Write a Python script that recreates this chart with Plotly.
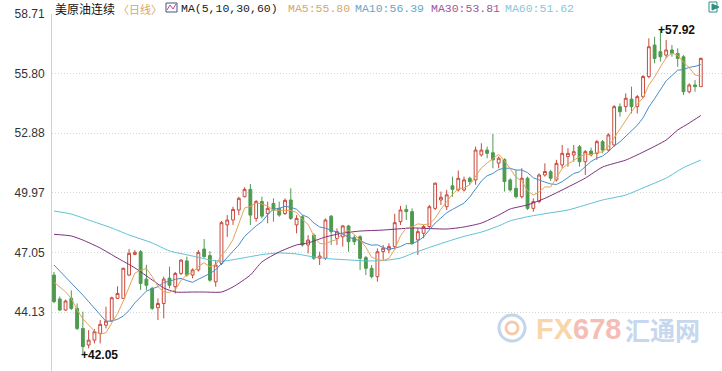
import plotly.graph_objects as go
import pandas as pd

# ---------------- data ----------------
idx = list(range(1, 114))

opens = [45.95, 44.78, 44.24, 44.81, 44.32, 43.34, 42.53, 42.77, 43.10, 43.50,
         43.70, 44.81, 44.81, 45.95, 46.96, 47.09, 45.75, 45.30, 44.35, 44.56,
         45.80, 45.38, 46.03, 46.64, 45.95, 46.20, 47.22, 46.90, 45.62, 46.52,
         48.40, 48.64, 49.13, 49.78, 50.14, 48.72, 49.54, 48.96, 49.45, 49.21,
         48.96, 49.62, 48.40, 48.80, 47.42, 47.90, 46.77, 46.77, 48.83, 47.74,
         47.82, 48.35, 47.79, 47.82, 46.80, 46.28, 45.87, 47.10, 47.18, 47.34,
         48.56, 49.16, 49.05, 47.67, 47.99, 48.32, 49.21, 49.62, 49.29, 50.31,
         50.11, 50.11, 50.68, 50.60, 51.82, 52.06, 51.93, 51.42, 51.60, 50.60,
         50.19, 49.78, 50.68, 49.21, 49.54, 50.84, 51.00, 50.60, 51.33, 51.74,
         51.82, 52.22, 51.49, 52.01, 51.90, 52.47, 52.06, 52.31, 54.18, 54.18,
         54.55, 54.18, 54.67, 55.65, 57.19, 56.87, 56.70, 56.95, 56.78, 56.62,
         54.91, 55.24, 55.16]

highs = [46.10, 44.90, 44.75, 45.20, 44.56, 44.16, 43.26, 43.31, 43.75, 44.40,
         44.89, 45.40, 46.31, 47.22, 47.17, 47.17, 46.45, 45.38, 44.81, 45.87,
         46.36, 46.10, 46.73, 46.85, 46.28, 47.17, 47.71, 47.12, 46.68, 48.59,
         48.88, 49.29, 49.78, 50.24, 50.40, 49.62, 49.78, 49.54, 49.70, 49.54,
         49.70, 50.19, 48.88, 48.88, 47.90, 47.99, 47.09, 48.72, 48.88, 48.23,
         48.40, 48.40, 47.90, 47.90, 46.88, 46.44, 47.25, 47.42, 47.50, 48.94,
         49.33, 49.38, 49.21, 48.23, 48.40, 49.38, 50.47, 50.03, 50.11, 50.76,
         51.06, 50.76, 50.76, 52.23, 52.39, 52.23, 52.85, 51.74, 51.66, 50.68,
         51.09, 51.17, 50.76, 49.70, 50.92, 51.41, 51.09, 51.58, 52.31, 52.15,
         52.31, 52.31, 52.06, 52.18, 52.55, 52.55, 52.88, 54.26, 54.34, 54.83,
         55.16, 54.75, 55.73, 57.52, 57.60, 57.92, 57.44, 57.19, 57.03, 56.70,
         55.32, 55.48, 56.58]

lows = [44.57, 44.19, 44.20, 44.24, 43.26, 42.05, 42.37, 42.61, 42.61, 43.34,
        43.67, 44.78, 44.78, 45.90, 46.92, 45.22, 45.20, 44.24, 43.75, 43.83,
        45.30, 45.05, 45.95, 45.87, 45.79, 46.12, 46.80, 45.62, 45.38, 46.44,
        47.82, 48.40, 48.88, 49.75, 48.40, 48.56, 48.72, 48.48, 48.56, 48.80,
        48.88, 48.64, 47.99, 47.34, 47.01, 46.69, 46.44, 46.69, 47.42, 47.42,
        47.34, 47.09, 47.42, 46.20, 45.95, 45.79, 45.63, 46.69, 47.01, 47.18,
        48.40, 48.64, 47.42, 46.93, 47.75, 48.23, 49.13, 49.38, 49.13, 49.78,
        50.03, 50.03, 50.36, 50.36, 51.74, 51.66, 51.17, 51.17, 50.03, 50.03,
        49.70, 49.70, 49.13, 49.05, 49.46, 50.76, 50.55, 50.52, 51.17, 51.25,
        51.49, 51.25, 50.84, 51.74, 51.58, 51.90, 51.98, 52.23, 53.69, 53.93,
        53.85, 53.85, 54.59, 55.57, 56.30, 56.38, 56.54, 56.62, 56.13, 54.75,
        54.83, 54.91, 55.16]

closes = [44.65, 44.24, 44.68, 44.32, 43.34, 42.45, 42.77, 43.18, 43.54, 43.70,
          44.84, 45.05, 46.28, 47.01, 47.06, 45.54, 45.45, 44.32, 44.56, 45.75,
          45.45, 46.03, 46.68, 45.95, 46.20, 47.06, 46.85, 45.70, 46.44, 48.51,
          48.64, 49.16, 49.70, 50.14, 48.88, 49.54, 48.83, 49.21, 49.13, 48.88,
          49.60, 48.72, 48.72, 47.42, 47.66, 46.77, 46.88, 48.64, 48.07, 48.07,
          48.35, 47.58, 47.58, 46.77, 46.28, 45.87, 47.09, 47.26, 47.34, 48.51,
          49.13, 49.05, 47.50, 48.07, 48.32, 49.29, 50.44, 49.75, 49.87, 50.14,
          50.68, 50.60, 50.52, 52.06, 52.06, 51.90, 51.58, 51.66, 50.52, 50.11,
          49.78, 50.68, 49.21, 49.54, 50.84, 51.01, 50.68, 51.41, 51.90, 51.90,
          51.98, 51.49, 51.98, 51.82, 52.47, 52.06, 52.80, 54.18, 53.93, 54.59,
          54.18, 54.67, 55.65, 57.11, 56.54, 56.62, 56.95, 56.78, 56.54, 54.91,
          55.24, 55.16, 56.54]

# MA values at the left edge (before a full window is visible)
ma5_head = [45.60, 45.38, 45.13, 44.80]
ma10_head = [46.44, 46.15, 45.88, 45.60, 45.30, 44.97, 44.65, 44.34, 44.00]

ma30_idx = [1, 4, 6, 9, 12, 15, 18, 20, 22, 25, 27, 30, 32, 35, 37, 40, 43, 45, 48, 51,
            54, 58, 63, 69, 72, 75, 78, 80, 83, 86, 90, 93, 96, 100, 103, 107, 109, 111, 113]
ma30_val = [47.94, 47.86, 47.66, 47.27, 46.78, 46.30, 45.71, 45.32, 45.12, 45.12, 45.12,
            45.12, 45.37, 45.95, 46.59, 47.08, 47.42, 47.52, 47.81, 48.00, 48.10, 48.15,
            48.25, 48.20, 48.30, 48.49, 48.88, 49.18, 49.38, 49.70, 50.25, 50.69, 51.23,
            51.57, 51.96, 52.55, 53.04, 53.38, 53.75]

ma60_idx = [1, 4, 7, 11, 14, 18, 21, 25, 28, 30, 32, 35, 37, 40, 43, 46, 49, 52, 55, 58,
            61, 63, 66, 69, 72, 75, 78, 80, 83, 86, 90, 93, 96, 100, 103, 107, 110, 113]
ma60_val = [49.08, 48.93, 48.64, 48.25, 47.91, 47.52, 47.13, 46.88, 46.69, 46.62, 46.70,
            46.85, 46.95, 47.03, 46.98, 46.83, 46.74, 46.69, 46.64, 46.66, 46.78, 47.00,
            47.30, 47.58, 47.84, 48.05, 48.35, 48.60, 48.80, 48.95, 49.13, 49.37, 49.62,
            49.86, 50.21, 50.69, 51.20, 51.57]

ytick_vals = [58.71, 55.80, 52.88, 49.97, 47.05, 44.13]
ytick_text = ["58.71", "55.80", "52.88", "49.97", "47.05", "44.13"]

title_name = "美原油连续"
title_period = "〈日线〉"
ma_label = "MA(5,10,30,60)"
ma_legend = ["MA5:55.80", "MA10:56.39", "MA30:53.81", "MA60:51.62"]
low_label = "+42.05"
high_label = "+57.92"

# ---------------- derived MA5 / MA10 ----------------
cs = pd.Series(closes)
ma5 = cs.rolling(5).mean().tolist()
ma10 = cs.rolling(10).mean().tolist()
ma5[:4] = ma5_head
ma10[:9] = ma10_head

# ---------------- styling ----------------
W, H = 722, 371
L, T = 52, 14
PW, PH = W - L, H - T

RED = "#c9483c"
GREEN = "#4f9a4f"
C_MA5 = "#e3a55a"
C_MA10 = "#4a8cc8"
C_MA30 = "#7d2e7d"
C_MA60 = "#5cc0d6"


def px(x):
    return (x - L) / PW


def py(y):
    return 1 - (y - T) / PH


fig = go.Figure()

fig.add_trace(go.Scatter(x=ma60_idx, y=ma60_val, mode="lines",
                         line=dict(color=C_MA60, width=1, shape="spline", smoothing=0.6),
                         hoverinfo="skip"))
fig.add_trace(go.Scatter(x=ma30_idx, y=ma30_val, mode="lines",
                         line=dict(color=C_MA30, width=1, shape="spline", smoothing=0.6),
                         hoverinfo="skip"))
fig.add_trace(go.Scatter(x=idx, y=ma10, mode="lines",
                         line=dict(color=C_MA10, width=1), hoverinfo="skip"))
fig.add_trace(go.Scatter(x=idx, y=ma5, mode="lines",
                         line=dict(color=C_MA5, width=1), hoverinfo="skip"))

fig.add_trace(go.Candlestick(
    x=idx, open=opens, high=highs, low=lows, close=closes,
    increasing=dict(line=dict(color=RED, width=1), fillcolor="#ffffff"),
    decreasing=dict(line=dict(color=GREEN, width=1), fillcolor=GREEN),
    whiskerwidth=0, hoverinfo="skip",
))

# low / high markers
i_low = lows.index(min(lows))
i_high = highs.index(max(highs))
annos = [
    dict(x=idx[i_low], y=lows[i_low], xref="x", yref="y", text="<b>" + low_label + "</b>",
         showarrow=False, xanchor="left", yanchor="middle", xshift=-4,
         font=dict(family="Liberation Sans, Arial", size=12, color="#111111")),
    dict(x=idx[i_high], y=highs[i_high], xref="x", yref="y", text="<b>" + high_label + "</b>",
         showarrow=False, xanchor="left", yanchor="middle", xshift=-4,
         font=dict(family="Liberation Sans, Arial", size=12, color="#111111")),
]

ty = py(8.5)
mono = "Liberation Mono, Courier New, monospace"
annos += [
    dict(x=px(53), y=ty, xref="paper", yref="paper", text=title_name, showarrow=False,
         xanchor="left", yanchor="middle",
         font=dict(family="Noto Sans CJK SC", size=12, color="#111111")),
    dict(x=px(116), y=ty, xref="paper", yref="paper", text=title_period,
         showarrow=False, xanchor="left", yanchor="middle",
         font=dict(family="Noto Sans CJK SC", size=11, color="#d9a860")),
    dict(x=px(179), y=ty, xref="paper", yref="paper", text=ma_label, showarrow=False,
         xanchor="left", yanchor="middle", font=dict(family=mono, size=11.5, color="#222222")),
]
legend_x = [286, 353, 429, 503]
legend_c = ["#d4a86e", "#6aa6c8", "#a0569c", "#86c8dc"]
for t, x0, c in zip(ma_legend, legend_x, legend_c):
    annos.append(dict(x=px(x0), y=ty, xref="paper", yref="paper", text=t, showarrow=False,
                      xanchor="left", yanchor="middle", font=dict(family=mono, size=11.5, color=c)))

# watermark
annos += [
    dict(x=px(578), y=py(329), xref="paper", yref="paper",
         text='<b><span style="color:#f8c98e">FX</span><span style="color:#f2a89c">678</span></b>',
         showarrow=False, xanchor="center", yanchor="middle",
         font=dict(family="Liberation Sans, Arial", size=29), opacity=0.75),
    dict(x=px(662), y=py(329), xref="paper", yref="paper", text="<b>汇通网</b>",
         showarrow=False, xanchor="center", yanchor="middle",
         font=dict(family="Noto Sans CJK SC", size=25, color="#b3cbe8"), opacity=0.75),
]

shapes = [
    # watermark logo
    dict(type="circle", xref="paper", yref="paper", x0=px(499), x1=px(525), y0=py(341), y1=py(315),
         line=dict(color="#a9c4e4", width=3), opacity=0.7),
    dict(type="circle", xref="paper", yref="paper", x0=px(506), x1=px(518), y0=py(334), y1=py(322),
         line=dict(color="#f4b58c", width=3), opacity=0.7),
    # small chart icon in title
    dict(type="rect", xref="paper", yref="paper", x0=px(166), x1=px(177), y0=py(12), y1=py(3),
         line=dict(color="#445577", width=1)),
    dict(type="path", xref="paper", yref="paper",
         path="M {} {} L {} {} L {} {} L {} {}".format(px(167), py(10), px(170), py(5), px(173), py(9), px(176), py(4)),
         line=dict(color="#c04a90", width=1)),
    # top-right icon
    dict(type="rect", xref="paper", yref="paper", x0=px(709), x1=px(717), y0=py(12), y1=py(2),
         line=dict(color="#2f8f86", width=1)),
    dict(type="path", xref="paper", yref="paper",
         path="M {} {} L {} {} L {} {} Z".format(px(712), py(4), px(719), py(7), px(712), py(10)),
         fillcolor="#2f8f86", line=dict(color="#2f8f86", width=1)),
]

fig.update_layout(
    width=W, height=H,
    margin=dict(l=L, r=0, t=T, b=0),
    paper_bgcolor="white", plot_bgcolor="white",
    showlegend=False,
    boxgap=0.3,
    annotations=annos,
    shapes=shapes,
    xaxis=dict(range=[0.654, 116.67], visible=False, rangeslider=dict(visible=False),
               fixedrange=True),
    yaxis=dict(range=[58.71 - PH * 0.04888, 58.71], tickvals=ytick_vals, ticktext=ytick_text,
               showgrid=True, gridcolor="#d6d6d6", griddash="1px,2px", gridwidth=1,
               showline=True, linecolor="#d0d0d0", linewidth=1, zeroline=False,
               ticks="", ticklabelstandoff=4, fixedrange=True,
               tickfont=dict(family="Liberation Sans, Arial", size=12, color="#333333")),
    hovermode=False,
)

fig.write_html("out.html", config={"displayModeBar": False, "staticPlot": True},
               post_script="document.body.style.margin='0';document.body.style.overflow='hidden';")
